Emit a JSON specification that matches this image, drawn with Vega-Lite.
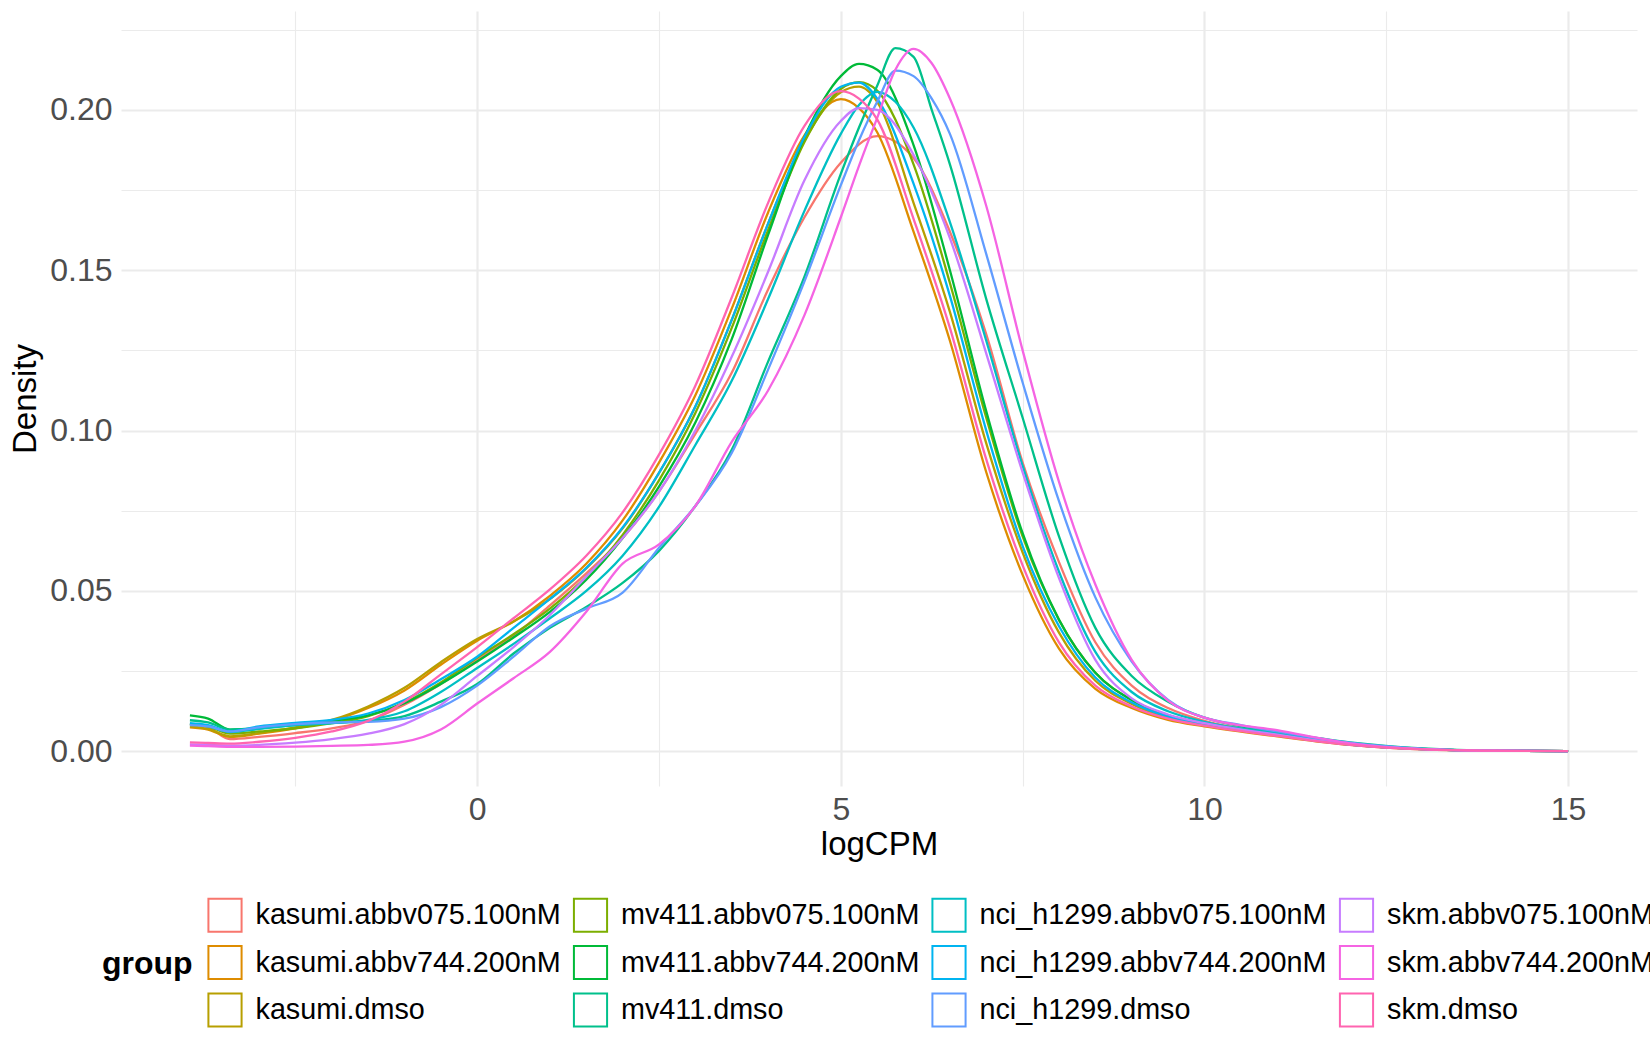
{
  "$schema": "https://vega.github.io/schema/vega-lite/v6.json",
  "width": 1516,
  "height": 775,
  "autosize": {"type": "none"},
  "padding": {"left": 121, "top": 11, "right": 13, "bottom": 264},
  "background": "white",
  "config": {
    "font": "Liberation Sans",
    "view": {"stroke": null}
  },
  "data": {
    "values": [
      {"group": "kasumi.abbv075.100nM", "logCPM": -3.95, "density": 0.0085},
      {"group": "kasumi.abbv075.100nM", "logCPM": -3.7, "density": 0.0075},
      {"group": "kasumi.abbv075.100nM", "logCPM": -3.4, "density": 0.0038},
      {"group": "kasumi.abbv075.100nM", "logCPM": -3.0, "density": 0.0045},
      {"group": "kasumi.abbv075.100nM", "logCPM": -2.5, "density": 0.0057},
      {"group": "kasumi.abbv075.100nM", "logCPM": -2.0, "density": 0.0072},
      {"group": "kasumi.abbv075.100nM", "logCPM": -1.5, "density": 0.0095},
      {"group": "kasumi.abbv075.100nM", "logCPM": -1.0, "density": 0.0145},
      {"group": "kasumi.abbv075.100nM", "logCPM": -0.5, "density": 0.021},
      {"group": "kasumi.abbv075.100nM", "logCPM": 0.0, "density": 0.0285},
      {"group": "kasumi.abbv075.100nM", "logCPM": 0.5, "density": 0.036},
      {"group": "kasumi.abbv075.100nM", "logCPM": 1.0, "density": 0.0455},
      {"group": "kasumi.abbv075.100nM", "logCPM": 1.5, "density": 0.0555},
      {"group": "kasumi.abbv075.100nM", "logCPM": 2.0, "density": 0.0665},
      {"group": "kasumi.abbv075.100nM", "logCPM": 2.5, "density": 0.081},
      {"group": "kasumi.abbv075.100nM", "logCPM": 3.0, "density": 0.099},
      {"group": "kasumi.abbv075.100nM", "logCPM": 3.5, "density": 0.118},
      {"group": "kasumi.abbv075.100nM", "logCPM": 4.0, "density": 0.144},
      {"group": "kasumi.abbv075.100nM", "logCPM": 4.5, "density": 0.1665},
      {"group": "kasumi.abbv075.100nM", "logCPM": 5.0, "density": 0.1835},
      {"group": "kasumi.abbv075.100nM", "logCPM": 5.5, "density": 0.1918},
      {"group": "kasumi.abbv075.100nM", "logCPM": 6.0, "density": 0.185},
      {"group": "kasumi.abbv075.100nM", "logCPM": 6.5, "density": 0.162},
      {"group": "kasumi.abbv075.100nM", "logCPM": 7.0, "density": 0.13},
      {"group": "kasumi.abbv075.100nM", "logCPM": 7.5, "density": 0.09},
      {"group": "kasumi.abbv075.100nM", "logCPM": 8.0, "density": 0.059},
      {"group": "kasumi.abbv075.100nM", "logCPM": 8.5, "density": 0.034},
      {"group": "kasumi.abbv075.100nM", "logCPM": 9.0, "density": 0.0205},
      {"group": "kasumi.abbv075.100nM", "logCPM": 9.5, "density": 0.0135},
      {"group": "kasumi.abbv075.100nM", "logCPM": 10.0, "density": 0.0095},
      {"group": "kasumi.abbv075.100nM", "logCPM": 11.0, "density": 0.0056},
      {"group": "kasumi.abbv075.100nM", "logCPM": 12.0, "density": 0.0024},
      {"group": "kasumi.abbv075.100nM", "logCPM": 13.0, "density": 0.0008},
      {"group": "kasumi.abbv075.100nM", "logCPM": 14.0, "density": 0.0002},
      {"group": "kasumi.abbv075.100nM", "logCPM": 15.0, "density": 0.0001},

      {"group": "kasumi.abbv744.200nM", "logCPM": -3.95, "density": 0.0075},
      {"group": "kasumi.abbv744.200nM", "logCPM": -3.7, "density": 0.0068},
      {"group": "kasumi.abbv744.200nM", "logCPM": -3.4, "density": 0.0045},
      {"group": "kasumi.abbv744.200nM", "logCPM": -3.0, "density": 0.0055},
      {"group": "kasumi.abbv744.200nM", "logCPM": -2.5, "density": 0.0072},
      {"group": "kasumi.abbv744.200nM", "logCPM": -2.0, "density": 0.0095},
      {"group": "kasumi.abbv744.200nM", "logCPM": -1.5, "density": 0.0135},
      {"group": "kasumi.abbv744.200nM", "logCPM": -1.0, "density": 0.019},
      {"group": "kasumi.abbv744.200nM", "logCPM": -0.5, "density": 0.027},
      {"group": "kasumi.abbv744.200nM", "logCPM": 0.0, "density": 0.0345},
      {"group": "kasumi.abbv744.200nM", "logCPM": 0.5, "density": 0.0405},
      {"group": "kasumi.abbv744.200nM", "logCPM": 1.0, "density": 0.0485},
      {"group": "kasumi.abbv744.200nM", "logCPM": 1.5, "density": 0.0585},
      {"group": "kasumi.abbv744.200nM", "logCPM": 2.0, "density": 0.072},
      {"group": "kasumi.abbv744.200nM", "logCPM": 2.5, "density": 0.09},
      {"group": "kasumi.abbv744.200nM", "logCPM": 3.0, "density": 0.111},
      {"group": "kasumi.abbv744.200nM", "logCPM": 3.5, "density": 0.138},
      {"group": "kasumi.abbv744.200nM", "logCPM": 4.0, "density": 0.168},
      {"group": "kasumi.abbv744.200nM", "logCPM": 4.5, "density": 0.192},
      {"group": "kasumi.abbv744.200nM", "logCPM": 5.0, "density": 0.2033},
      {"group": "kasumi.abbv744.200nM", "logCPM": 5.25, "density": 0.2005},
      {"group": "kasumi.abbv744.200nM", "logCPM": 5.5, "density": 0.193},
      {"group": "kasumi.abbv744.200nM", "logCPM": 6.0, "density": 0.162},
      {"group": "kasumi.abbv744.200nM", "logCPM": 6.5, "density": 0.128},
      {"group": "kasumi.abbv744.200nM", "logCPM": 7.0, "density": 0.087},
      {"group": "kasumi.abbv744.200nM", "logCPM": 7.5, "density": 0.055},
      {"group": "kasumi.abbv744.200nM", "logCPM": 8.0, "density": 0.032},
      {"group": "kasumi.abbv744.200nM", "logCPM": 8.5, "density": 0.0195},
      {"group": "kasumi.abbv744.200nM", "logCPM": 9.0, "density": 0.0135},
      {"group": "kasumi.abbv744.200nM", "logCPM": 9.5, "density": 0.0098},
      {"group": "kasumi.abbv744.200nM", "logCPM": 10.0, "density": 0.0078},
      {"group": "kasumi.abbv744.200nM", "logCPM": 11.0, "density": 0.0047},
      {"group": "kasumi.abbv744.200nM", "logCPM": 12.0, "density": 0.002},
      {"group": "kasumi.abbv744.200nM", "logCPM": 13.0, "density": 0.0006},
      {"group": "kasumi.abbv744.200nM", "logCPM": 14.0, "density": 0.0002},
      {"group": "kasumi.abbv744.200nM", "logCPM": 15.0, "density": 0.0001},

      {"group": "kasumi.dmso", "logCPM": -3.95, "density": 0.0078},
      {"group": "kasumi.dmso", "logCPM": -3.7, "density": 0.007},
      {"group": "kasumi.dmso", "logCPM": -3.4, "density": 0.0047},
      {"group": "kasumi.dmso", "logCPM": -3.0, "density": 0.0057},
      {"group": "kasumi.dmso", "logCPM": -2.5, "density": 0.0075},
      {"group": "kasumi.dmso", "logCPM": -2.0, "density": 0.0098},
      {"group": "kasumi.dmso", "logCPM": -1.5, "density": 0.014},
      {"group": "kasumi.dmso", "logCPM": -1.0, "density": 0.0198},
      {"group": "kasumi.dmso", "logCPM": -0.5, "density": 0.0278},
      {"group": "kasumi.dmso", "logCPM": 0.0, "density": 0.035},
      {"group": "kasumi.dmso", "logCPM": 0.5, "density": 0.0405},
      {"group": "kasumi.dmso", "logCPM": 1.0, "density": 0.0475},
      {"group": "kasumi.dmso", "logCPM": 1.5, "density": 0.057},
      {"group": "kasumi.dmso", "logCPM": 2.0, "density": 0.0695},
      {"group": "kasumi.dmso", "logCPM": 2.5, "density": 0.0868},
      {"group": "kasumi.dmso", "logCPM": 3.0, "density": 0.1075},
      {"group": "kasumi.dmso", "logCPM": 3.5, "density": 0.1345},
      {"group": "kasumi.dmso", "logCPM": 4.0, "density": 0.1645},
      {"group": "kasumi.dmso", "logCPM": 4.5, "density": 0.1905},
      {"group": "kasumi.dmso", "logCPM": 5.0, "density": 0.2055},
      {"group": "kasumi.dmso", "logCPM": 5.25, "density": 0.2072},
      {"group": "kasumi.dmso", "logCPM": 5.5, "density": 0.2025},
      {"group": "kasumi.dmso", "logCPM": 6.0, "density": 0.171},
      {"group": "kasumi.dmso", "logCPM": 6.5, "density": 0.137},
      {"group": "kasumi.dmso", "logCPM": 7.0, "density": 0.096},
      {"group": "kasumi.dmso", "logCPM": 7.5, "density": 0.062},
      {"group": "kasumi.dmso", "logCPM": 8.0, "density": 0.037},
      {"group": "kasumi.dmso", "logCPM": 8.5, "density": 0.022},
      {"group": "kasumi.dmso", "logCPM": 9.0, "density": 0.0148},
      {"group": "kasumi.dmso", "logCPM": 9.5, "density": 0.0105},
      {"group": "kasumi.dmso", "logCPM": 10.0, "density": 0.0082},
      {"group": "kasumi.dmso", "logCPM": 11.0, "density": 0.005},
      {"group": "kasumi.dmso", "logCPM": 12.0, "density": 0.0021},
      {"group": "kasumi.dmso", "logCPM": 13.0, "density": 0.0007},
      {"group": "kasumi.dmso", "logCPM": 14.0, "density": 0.0002},
      {"group": "kasumi.dmso", "logCPM": 15.0, "density": 0.0001},

      {"group": "mv411.abbv075.100nM", "logCPM": -3.95, "density": 0.0085},
      {"group": "mv411.abbv075.100nM", "logCPM": -3.7, "density": 0.0078},
      {"group": "mv411.abbv075.100nM", "logCPM": -3.4, "density": 0.0055},
      {"group": "mv411.abbv075.100nM", "logCPM": -3.0, "density": 0.0062},
      {"group": "mv411.abbv075.100nM", "logCPM": -2.5, "density": 0.0072},
      {"group": "mv411.abbv075.100nM", "logCPM": -2.0, "density": 0.0088},
      {"group": "mv411.abbv075.100nM", "logCPM": -1.5, "density": 0.011},
      {"group": "mv411.abbv075.100nM", "logCPM": -1.0, "density": 0.0152},
      {"group": "mv411.abbv075.100nM", "logCPM": -0.5, "density": 0.0215},
      {"group": "mv411.abbv075.100nM", "logCPM": 0.0, "density": 0.0292},
      {"group": "mv411.abbv075.100nM", "logCPM": 0.5, "density": 0.0365},
      {"group": "mv411.abbv075.100nM", "logCPM": 1.0, "density": 0.0445},
      {"group": "mv411.abbv075.100nM", "logCPM": 1.5, "density": 0.0545},
      {"group": "mv411.abbv075.100nM", "logCPM": 2.0, "density": 0.0675},
      {"group": "mv411.abbv075.100nM", "logCPM": 2.5, "density": 0.0845},
      {"group": "mv411.abbv075.100nM", "logCPM": 3.0, "density": 0.1055},
      {"group": "mv411.abbv075.100nM", "logCPM": 3.5, "density": 0.132},
      {"group": "mv411.abbv075.100nM", "logCPM": 4.0, "density": 0.1625},
      {"group": "mv411.abbv075.100nM", "logCPM": 4.5, "density": 0.19},
      {"group": "mv411.abbv075.100nM", "logCPM": 5.0, "density": 0.2065},
      {"group": "mv411.abbv075.100nM", "logCPM": 5.25, "density": 0.2086},
      {"group": "mv411.abbv075.100nM", "logCPM": 5.5, "density": 0.206},
      {"group": "mv411.abbv075.100nM", "logCPM": 6.0, "density": 0.183},
      {"group": "mv411.abbv075.100nM", "logCPM": 6.5, "density": 0.146},
      {"group": "mv411.abbv075.100nM", "logCPM": 7.0, "density": 0.104},
      {"group": "mv411.abbv075.100nM", "logCPM": 7.5, "density": 0.067},
      {"group": "mv411.abbv075.100nM", "logCPM": 8.0, "density": 0.041},
      {"group": "mv411.abbv075.100nM", "logCPM": 8.5, "density": 0.0245},
      {"group": "mv411.abbv075.100nM", "logCPM": 9.0, "density": 0.016},
      {"group": "mv411.abbv075.100nM", "logCPM": 9.5, "density": 0.0112},
      {"group": "mv411.abbv075.100nM", "logCPM": 10.0, "density": 0.0086},
      {"group": "mv411.abbv075.100nM", "logCPM": 11.0, "density": 0.0052},
      {"group": "mv411.abbv075.100nM", "logCPM": 12.0, "density": 0.0022},
      {"group": "mv411.abbv075.100nM", "logCPM": 13.0, "density": 0.0007},
      {"group": "mv411.abbv075.100nM", "logCPM": 14.0, "density": 0.0002},
      {"group": "mv411.abbv075.100nM", "logCPM": 15.0, "density": 0.0001},

      {"group": "mv411.abbv744.200nM", "logCPM": -3.95, "density": 0.0112},
      {"group": "mv411.abbv744.200nM", "logCPM": -3.7, "density": 0.0102},
      {"group": "mv411.abbv744.200nM", "logCPM": -3.4, "density": 0.0068},
      {"group": "mv411.abbv744.200nM", "logCPM": -3.0, "density": 0.0072},
      {"group": "mv411.abbv744.200nM", "logCPM": -2.5, "density": 0.0085},
      {"group": "mv411.abbv744.200nM", "logCPM": -2.0, "density": 0.0095},
      {"group": "mv411.abbv744.200nM", "logCPM": -1.5, "density": 0.0112},
      {"group": "mv411.abbv744.200nM", "logCPM": -1.0, "density": 0.015},
      {"group": "mv411.abbv744.200nM", "logCPM": -0.5, "density": 0.021},
      {"group": "mv411.abbv744.200nM", "logCPM": 0.0, "density": 0.028},
      {"group": "mv411.abbv744.200nM", "logCPM": 0.5, "density": 0.0355},
      {"group": "mv411.abbv744.200nM", "logCPM": 1.0, "density": 0.0435},
      {"group": "mv411.abbv744.200nM", "logCPM": 1.5, "density": 0.0535},
      {"group": "mv411.abbv744.200nM", "logCPM": 2.0, "density": 0.0665},
      {"group": "mv411.abbv744.200nM", "logCPM": 2.5, "density": 0.0825},
      {"group": "mv411.abbv744.200nM", "logCPM": 3.0, "density": 0.1025},
      {"group": "mv411.abbv744.200nM", "logCPM": 3.5, "density": 0.1285},
      {"group": "mv411.abbv744.200nM", "logCPM": 4.0, "density": 0.161},
      {"group": "mv411.abbv744.200nM", "logCPM": 4.5, "density": 0.1915},
      {"group": "mv411.abbv744.200nM", "logCPM": 5.0, "density": 0.2105},
      {"group": "mv411.abbv744.200nM", "logCPM": 5.25, "density": 0.2143},
      {"group": "mv411.abbv744.200nM", "logCPM": 5.5, "density": 0.2125},
      {"group": "mv411.abbv744.200nM", "logCPM": 6.0, "density": 0.189},
      {"group": "mv411.abbv744.200nM", "logCPM": 6.5, "density": 0.15},
      {"group": "mv411.abbv744.200nM", "logCPM": 7.0, "density": 0.106},
      {"group": "mv411.abbv744.200nM", "logCPM": 7.5, "density": 0.068},
      {"group": "mv411.abbv744.200nM", "logCPM": 8.0, "density": 0.041},
      {"group": "mv411.abbv744.200nM", "logCPM": 8.5, "density": 0.0245},
      {"group": "mv411.abbv744.200nM", "logCPM": 9.0, "density": 0.016},
      {"group": "mv411.abbv744.200nM", "logCPM": 9.5, "density": 0.0112},
      {"group": "mv411.abbv744.200nM", "logCPM": 10.0, "density": 0.0086},
      {"group": "mv411.abbv744.200nM", "logCPM": 11.0, "density": 0.0052},
      {"group": "mv411.abbv744.200nM", "logCPM": 12.0, "density": 0.0022},
      {"group": "mv411.abbv744.200nM", "logCPM": 13.0, "density": 0.0007},
      {"group": "mv411.abbv744.200nM", "logCPM": 14.0, "density": 0.0002},
      {"group": "mv411.abbv744.200nM", "logCPM": 15.0, "density": 0.0001},

      {"group": "mv411.dmso", "logCPM": -3.95, "density": 0.0097},
      {"group": "mv411.dmso", "logCPM": -3.7, "density": 0.009},
      {"group": "mv411.dmso", "logCPM": -3.4, "density": 0.0068},
      {"group": "mv411.dmso", "logCPM": -3.0, "density": 0.0072},
      {"group": "mv411.dmso", "logCPM": -2.5, "density": 0.0082},
      {"group": "mv411.dmso", "logCPM": -2.0, "density": 0.0088},
      {"group": "mv411.dmso", "logCPM": -1.5, "density": 0.0095},
      {"group": "mv411.dmso", "logCPM": -1.0, "density": 0.011},
      {"group": "mv411.dmso", "logCPM": -0.5, "density": 0.0155},
      {"group": "mv411.dmso", "logCPM": 0.0, "density": 0.021},
      {"group": "mv411.dmso", "logCPM": 0.5, "density": 0.0305},
      {"group": "mv411.dmso", "logCPM": 1.0, "density": 0.0385},
      {"group": "mv411.dmso", "logCPM": 1.5, "density": 0.045},
      {"group": "mv411.dmso", "logCPM": 2.0, "density": 0.0525},
      {"group": "mv411.dmso", "logCPM": 2.5, "density": 0.0625},
      {"group": "mv411.dmso", "logCPM": 3.0, "density": 0.0765},
      {"group": "mv411.dmso", "logCPM": 3.5, "density": 0.094},
      {"group": "mv411.dmso", "logCPM": 4.0, "density": 0.1215},
      {"group": "mv411.dmso", "logCPM": 4.5, "density": 0.148},
      {"group": "mv411.dmso", "logCPM": 5.0, "density": 0.18},
      {"group": "mv411.dmso", "logCPM": 5.25, "density": 0.1945},
      {"group": "mv411.dmso", "logCPM": 5.5, "density": 0.2075},
      {"group": "mv411.dmso", "logCPM": 5.75, "density": 0.2192},
      {"group": "mv411.dmso", "logCPM": 6.0, "density": 0.2165},
      {"group": "mv411.dmso", "logCPM": 6.25, "density": 0.2},
      {"group": "mv411.dmso", "logCPM": 6.5, "density": 0.183},
      {"group": "mv411.dmso", "logCPM": 7.0, "density": 0.141},
      {"group": "mv411.dmso", "logCPM": 7.5, "density": 0.104},
      {"group": "mv411.dmso", "logCPM": 8.0, "density": 0.067},
      {"group": "mv411.dmso", "logCPM": 8.5, "density": 0.0385},
      {"group": "mv411.dmso", "logCPM": 9.0, "density": 0.0235},
      {"group": "mv411.dmso", "logCPM": 9.5, "density": 0.0155},
      {"group": "mv411.dmso", "logCPM": 10.0, "density": 0.0105},
      {"group": "mv411.dmso", "logCPM": 10.5, "density": 0.0078},
      {"group": "mv411.dmso", "logCPM": 11.0, "density": 0.006},
      {"group": "mv411.dmso", "logCPM": 12.0, "density": 0.0028},
      {"group": "mv411.dmso", "logCPM": 13.0, "density": 0.0009},
      {"group": "mv411.dmso", "logCPM": 14.0, "density": 0.0002},
      {"group": "mv411.dmso", "logCPM": 15.0, "density": 0.0001},

      {"group": "nci_h1299.abbv075.100nM", "logCPM": -3.95, "density": 0.0085},
      {"group": "nci_h1299.abbv075.100nM", "logCPM": -3.7, "density": 0.0078},
      {"group": "nci_h1299.abbv075.100nM", "logCPM": -3.4, "density": 0.006},
      {"group": "nci_h1299.abbv075.100nM", "logCPM": -3.0, "density": 0.007},
      {"group": "nci_h1299.abbv075.100nM", "logCPM": -2.5, "density": 0.0082},
      {"group": "nci_h1299.abbv075.100nM", "logCPM": -2.0, "density": 0.0088},
      {"group": "nci_h1299.abbv075.100nM", "logCPM": -1.5, "density": 0.0098},
      {"group": "nci_h1299.abbv075.100nM", "logCPM": -1.0, "density": 0.0125},
      {"group": "nci_h1299.abbv075.100nM", "logCPM": -0.5, "density": 0.0185},
      {"group": "nci_h1299.abbv075.100nM", "logCPM": 0.0, "density": 0.026},
      {"group": "nci_h1299.abbv075.100nM", "logCPM": 0.5, "density": 0.0335},
      {"group": "nci_h1299.abbv075.100nM", "logCPM": 1.0, "density": 0.0415},
      {"group": "nci_h1299.abbv075.100nM", "logCPM": 1.5, "density": 0.05},
      {"group": "nci_h1299.abbv075.100nM", "logCPM": 2.0, "density": 0.061},
      {"group": "nci_h1299.abbv075.100nM", "logCPM": 2.5, "density": 0.0762},
      {"group": "nci_h1299.abbv075.100nM", "logCPM": 3.0, "density": 0.0955},
      {"group": "nci_h1299.abbv075.100nM", "logCPM": 3.5, "density": 0.1155},
      {"group": "nci_h1299.abbv075.100nM", "logCPM": 4.0, "density": 0.141},
      {"group": "nci_h1299.abbv075.100nM", "logCPM": 4.5, "density": 0.1685},
      {"group": "nci_h1299.abbv075.100nM", "logCPM": 5.0, "density": 0.1925},
      {"group": "nci_h1299.abbv075.100nM", "logCPM": 5.25, "density": 0.2015},
      {"group": "nci_h1299.abbv075.100nM", "logCPM": 5.5, "density": 0.2056},
      {"group": "nci_h1299.abbv075.100nM", "logCPM": 5.75, "density": 0.2025},
      {"group": "nci_h1299.abbv075.100nM", "logCPM": 6.0, "density": 0.1945},
      {"group": "nci_h1299.abbv075.100nM", "logCPM": 6.5, "density": 0.165},
      {"group": "nci_h1299.abbv075.100nM", "logCPM": 7.0, "density": 0.128},
      {"group": "nci_h1299.abbv075.100nM", "logCPM": 7.5, "density": 0.089},
      {"group": "nci_h1299.abbv075.100nM", "logCPM": 8.0, "density": 0.056},
      {"group": "nci_h1299.abbv075.100nM", "logCPM": 8.5, "density": 0.031},
      {"group": "nci_h1299.abbv075.100nM", "logCPM": 9.0, "density": 0.0185},
      {"group": "nci_h1299.abbv075.100nM", "logCPM": 9.5, "density": 0.0125},
      {"group": "nci_h1299.abbv075.100nM", "logCPM": 10.0, "density": 0.0092},
      {"group": "nci_h1299.abbv075.100nM", "logCPM": 11.0, "density": 0.0055},
      {"group": "nci_h1299.abbv075.100nM", "logCPM": 12.0, "density": 0.0024},
      {"group": "nci_h1299.abbv075.100nM", "logCPM": 13.0, "density": 0.0008},
      {"group": "nci_h1299.abbv075.100nM", "logCPM": 14.0, "density": 0.0002},
      {"group": "nci_h1299.abbv075.100nM", "logCPM": 15.0, "density": 0.0001},

      {"group": "nci_h1299.abbv744.200nM", "logCPM": -3.95, "density": 0.0088},
      {"group": "nci_h1299.abbv744.200nM", "logCPM": -3.7, "density": 0.0082},
      {"group": "nci_h1299.abbv744.200nM", "logCPM": -3.4, "density": 0.0062},
      {"group": "nci_h1299.abbv744.200nM", "logCPM": -3.0, "density": 0.0078},
      {"group": "nci_h1299.abbv744.200nM", "logCPM": -2.5, "density": 0.0089},
      {"group": "nci_h1299.abbv744.200nM", "logCPM": -2.0, "density": 0.0098},
      {"group": "nci_h1299.abbv744.200nM", "logCPM": -1.5, "density": 0.0118},
      {"group": "nci_h1299.abbv744.200nM", "logCPM": -1.0, "density": 0.016},
      {"group": "nci_h1299.abbv744.200nM", "logCPM": -0.5, "density": 0.0225},
      {"group": "nci_h1299.abbv744.200nM", "logCPM": 0.0, "density": 0.0295},
      {"group": "nci_h1299.abbv744.200nM", "logCPM": 0.5, "density": 0.0385},
      {"group": "nci_h1299.abbv744.200nM", "logCPM": 1.0, "density": 0.0475},
      {"group": "nci_h1299.abbv744.200nM", "logCPM": 1.5, "density": 0.0572},
      {"group": "nci_h1299.abbv744.200nM", "logCPM": 2.0, "density": 0.0698},
      {"group": "nci_h1299.abbv744.200nM", "logCPM": 2.5, "density": 0.0868},
      {"group": "nci_h1299.abbv744.200nM", "logCPM": 3.0, "density": 0.1075},
      {"group": "nci_h1299.abbv744.200nM", "logCPM": 3.5, "density": 0.1345},
      {"group": "nci_h1299.abbv744.200nM", "logCPM": 4.0, "density": 0.1645},
      {"group": "nci_h1299.abbv744.200nM", "logCPM": 4.5, "density": 0.1915},
      {"group": "nci_h1299.abbv744.200nM", "logCPM": 5.0, "density": 0.2072},
      {"group": "nci_h1299.abbv744.200nM", "logCPM": 5.25, "density": 0.2085},
      {"group": "nci_h1299.abbv744.200nM", "logCPM": 5.5, "density": 0.2035},
      {"group": "nci_h1299.abbv744.200nM", "logCPM": 6.0, "density": 0.177},
      {"group": "nci_h1299.abbv744.200nM", "logCPM": 6.5, "density": 0.142},
      {"group": "nci_h1299.abbv744.200nM", "logCPM": 7.0, "density": 0.1},
      {"group": "nci_h1299.abbv744.200nM", "logCPM": 7.5, "density": 0.064},
      {"group": "nci_h1299.abbv744.200nM", "logCPM": 8.0, "density": 0.039},
      {"group": "nci_h1299.abbv744.200nM", "logCPM": 8.5, "density": 0.023},
      {"group": "nci_h1299.abbv744.200nM", "logCPM": 9.0, "density": 0.0152},
      {"group": "nci_h1299.abbv744.200nM", "logCPM": 9.5, "density": 0.0108},
      {"group": "nci_h1299.abbv744.200nM", "logCPM": 10.0, "density": 0.0083},
      {"group": "nci_h1299.abbv744.200nM", "logCPM": 11.0, "density": 0.005},
      {"group": "nci_h1299.abbv744.200nM", "logCPM": 12.0, "density": 0.0021},
      {"group": "nci_h1299.abbv744.200nM", "logCPM": 13.0, "density": 0.0007},
      {"group": "nci_h1299.abbv744.200nM", "logCPM": 14.0, "density": 0.0002},
      {"group": "nci_h1299.abbv744.200nM", "logCPM": 15.0, "density": 0.0001},

      {"group": "nci_h1299.dmso", "logCPM": -3.95, "density": 0.0082},
      {"group": "nci_h1299.dmso", "logCPM": -3.7, "density": 0.0078},
      {"group": "nci_h1299.dmso", "logCPM": -3.4, "density": 0.0062},
      {"group": "nci_h1299.dmso", "logCPM": -3.0, "density": 0.0075},
      {"group": "nci_h1299.dmso", "logCPM": -2.5, "density": 0.0085},
      {"group": "nci_h1299.dmso", "logCPM": -2.0, "density": 0.009},
      {"group": "nci_h1299.dmso", "logCPM": -1.5, "density": 0.0092},
      {"group": "nci_h1299.dmso", "logCPM": -1.0, "density": 0.0102},
      {"group": "nci_h1299.dmso", "logCPM": -0.5, "density": 0.0138},
      {"group": "nci_h1299.dmso", "logCPM": 0.0, "density": 0.0205},
      {"group": "nci_h1299.dmso", "logCPM": 0.5, "density": 0.0295},
      {"group": "nci_h1299.dmso", "logCPM": 1.0, "density": 0.039},
      {"group": "nci_h1299.dmso", "logCPM": 1.5, "density": 0.0445},
      {"group": "nci_h1299.dmso", "logCPM": 2.0, "density": 0.0495},
      {"group": "nci_h1299.dmso", "logCPM": 2.5, "density": 0.0635},
      {"group": "nci_h1299.dmso", "logCPM": 3.0, "density": 0.0765},
      {"group": "nci_h1299.dmso", "logCPM": 3.5, "density": 0.093},
      {"group": "nci_h1299.dmso", "logCPM": 4.0, "density": 0.119},
      {"group": "nci_h1299.dmso", "logCPM": 4.5, "density": 0.1465},
      {"group": "nci_h1299.dmso", "logCPM": 5.0, "density": 0.1765},
      {"group": "nci_h1299.dmso", "logCPM": 5.25, "density": 0.1905},
      {"group": "nci_h1299.dmso", "logCPM": 5.5, "density": 0.2025},
      {"group": "nci_h1299.dmso", "logCPM": 5.75, "density": 0.2122},
      {"group": "nci_h1299.dmso", "logCPM": 6.0, "density": 0.2105},
      {"group": "nci_h1299.dmso", "logCPM": 6.25, "density": 0.2035},
      {"group": "nci_h1299.dmso", "logCPM": 6.5, "density": 0.1925},
      {"group": "nci_h1299.dmso", "logCPM": 7.0, "density": 0.155},
      {"group": "nci_h1299.dmso", "logCPM": 7.5, "density": 0.115},
      {"group": "nci_h1299.dmso", "logCPM": 8.0, "density": 0.078},
      {"group": "nci_h1299.dmso", "logCPM": 8.5, "density": 0.048},
      {"group": "nci_h1299.dmso", "logCPM": 9.0, "density": 0.028},
      {"group": "nci_h1299.dmso", "logCPM": 9.5, "density": 0.016},
      {"group": "nci_h1299.dmso", "logCPM": 10.0, "density": 0.0105},
      {"group": "nci_h1299.dmso", "logCPM": 10.5, "density": 0.0082},
      {"group": "nci_h1299.dmso", "logCPM": 11.0, "density": 0.0062},
      {"group": "nci_h1299.dmso", "logCPM": 12.0, "density": 0.0027},
      {"group": "nci_h1299.dmso", "logCPM": 13.0, "density": 0.0008},
      {"group": "nci_h1299.dmso", "logCPM": 14.0, "density": 0.0002},
      {"group": "nci_h1299.dmso", "logCPM": 15.0, "density": 0.0001},

      {"group": "skm.abbv075.100nM", "logCPM": -3.95, "density": 0.0022},
      {"group": "skm.abbv075.100nM", "logCPM": -3.7, "density": 0.002},
      {"group": "skm.abbv075.100nM", "logCPM": -3.4, "density": 0.0018},
      {"group": "skm.abbv075.100nM", "logCPM": -3.0, "density": 0.002},
      {"group": "skm.abbv075.100nM", "logCPM": -2.5, "density": 0.0027},
      {"group": "skm.abbv075.100nM", "logCPM": -2.0, "density": 0.0038},
      {"group": "skm.abbv075.100nM", "logCPM": -1.5, "density": 0.0055},
      {"group": "skm.abbv075.100nM", "logCPM": -1.0, "density": 0.0085},
      {"group": "skm.abbv075.100nM", "logCPM": -0.5, "density": 0.0145},
      {"group": "skm.abbv075.100nM", "logCPM": 0.0, "density": 0.0235},
      {"group": "skm.abbv075.100nM", "logCPM": 0.5, "density": 0.0325},
      {"group": "skm.abbv075.100nM", "logCPM": 1.0, "density": 0.0425},
      {"group": "skm.abbv075.100nM", "logCPM": 1.5, "density": 0.0545},
      {"group": "skm.abbv075.100nM", "logCPM": 2.0, "density": 0.0665},
      {"group": "skm.abbv075.100nM", "logCPM": 2.5, "density": 0.081},
      {"group": "skm.abbv075.100nM", "logCPM": 3.0, "density": 0.1},
      {"group": "skm.abbv075.100nM", "logCPM": 3.5, "density": 0.123},
      {"group": "skm.abbv075.100nM", "logCPM": 4.0, "density": 0.1495},
      {"group": "skm.abbv075.100nM", "logCPM": 4.5, "density": 0.178},
      {"group": "skm.abbv075.100nM", "logCPM": 5.0, "density": 0.1965},
      {"group": "skm.abbv075.100nM", "logCPM": 5.25, "density": 0.2005},
      {"group": "skm.abbv075.100nM", "logCPM": 5.5, "density": 0.2},
      {"group": "skm.abbv075.100nM", "logCPM": 6.0, "density": 0.186},
      {"group": "skm.abbv075.100nM", "logCPM": 6.5, "density": 0.16},
      {"group": "skm.abbv075.100nM", "logCPM": 7.0, "density": 0.124},
      {"group": "skm.abbv075.100nM", "logCPM": 7.5, "density": 0.087},
      {"group": "skm.abbv075.100nM", "logCPM": 8.0, "density": 0.054},
      {"group": "skm.abbv075.100nM", "logCPM": 8.5, "density": 0.0285},
      {"group": "skm.abbv075.100nM", "logCPM": 9.0, "density": 0.0165},
      {"group": "skm.abbv075.100nM", "logCPM": 9.5, "density": 0.0115},
      {"group": "skm.abbv075.100nM", "logCPM": 10.0, "density": 0.0088},
      {"group": "skm.abbv075.100nM", "logCPM": 11.0, "density": 0.0052},
      {"group": "skm.abbv075.100nM", "logCPM": 12.0, "density": 0.0022},
      {"group": "skm.abbv075.100nM", "logCPM": 13.0, "density": 0.0007},
      {"group": "skm.abbv075.100nM", "logCPM": 14.0, "density": 0.0002},
      {"group": "skm.abbv075.100nM", "logCPM": 15.0, "density": 0.0001},

      {"group": "skm.abbv744.200nM", "logCPM": -3.95, "density": 0.0018},
      {"group": "skm.abbv744.200nM", "logCPM": -3.7, "density": 0.0016},
      {"group": "skm.abbv744.200nM", "logCPM": -3.4, "density": 0.0014},
      {"group": "skm.abbv744.200nM", "logCPM": -3.0, "density": 0.0014},
      {"group": "skm.abbv744.200nM", "logCPM": -2.5, "density": 0.0015},
      {"group": "skm.abbv744.200nM", "logCPM": -2.0, "density": 0.0017},
      {"group": "skm.abbv744.200nM", "logCPM": -1.5, "density": 0.002},
      {"group": "skm.abbv744.200nM", "logCPM": -1.0, "density": 0.003},
      {"group": "skm.abbv744.200nM", "logCPM": -0.5, "density": 0.0068},
      {"group": "skm.abbv744.200nM", "logCPM": 0.0, "density": 0.0149},
      {"group": "skm.abbv744.200nM", "logCPM": 0.5, "density": 0.0228},
      {"group": "skm.abbv744.200nM", "logCPM": 1.0, "density": 0.031},
      {"group": "skm.abbv744.200nM", "logCPM": 1.5, "density": 0.0435},
      {"group": "skm.abbv744.200nM", "logCPM": 2.0, "density": 0.0585},
      {"group": "skm.abbv744.200nM", "logCPM": 2.5, "density": 0.0645},
      {"group": "skm.abbv744.200nM", "logCPM": 3.0, "density": 0.0765},
      {"group": "skm.abbv744.200nM", "logCPM": 3.5, "density": 0.0965},
      {"group": "skm.abbv744.200nM", "logCPM": 4.0, "density": 0.1125},
      {"group": "skm.abbv744.200nM", "logCPM": 4.5, "density": 0.136},
      {"group": "skm.abbv744.200nM", "logCPM": 5.0, "density": 0.1665},
      {"group": "skm.abbv744.200nM", "logCPM": 5.25, "density": 0.1825},
      {"group": "skm.abbv744.200nM", "logCPM": 5.5, "density": 0.1975},
      {"group": "skm.abbv744.200nM", "logCPM": 5.75, "density": 0.2125},
      {"group": "skm.abbv744.200nM", "logCPM": 6.0, "density": 0.219},
      {"group": "skm.abbv744.200nM", "logCPM": 6.25, "density": 0.2145},
      {"group": "skm.abbv744.200nM", "logCPM": 6.5, "density": 0.2035},
      {"group": "skm.abbv744.200nM", "logCPM": 7.0, "density": 0.17},
      {"group": "skm.abbv744.200nM", "logCPM": 7.5, "density": 0.125},
      {"group": "skm.abbv744.200nM", "logCPM": 8.0, "density": 0.084},
      {"group": "skm.abbv744.200nM", "logCPM": 8.5, "density": 0.052},
      {"group": "skm.abbv744.200nM", "logCPM": 9.0, "density": 0.0285},
      {"group": "skm.abbv744.200nM", "logCPM": 9.5, "density": 0.0158},
      {"group": "skm.abbv744.200nM", "logCPM": 10.0, "density": 0.0105},
      {"group": "skm.abbv744.200nM", "logCPM": 11.0, "density": 0.0066},
      {"group": "skm.abbv744.200nM", "logCPM": 12.0, "density": 0.0025},
      {"group": "skm.abbv744.200nM", "logCPM": 13.0, "density": 0.0007},
      {"group": "skm.abbv744.200nM", "logCPM": 14.0, "density": 0.0002},
      {"group": "skm.abbv744.200nM", "logCPM": 15.0, "density": 0.0001},

      {"group": "skm.dmso", "logCPM": -3.95, "density": 0.0028},
      {"group": "skm.dmso", "logCPM": -3.7, "density": 0.0026},
      {"group": "skm.dmso", "logCPM": -3.4, "density": 0.0024},
      {"group": "skm.dmso", "logCPM": -3.0, "density": 0.003},
      {"group": "skm.dmso", "logCPM": -2.5, "density": 0.0042},
      {"group": "skm.dmso", "logCPM": -2.0, "density": 0.0062},
      {"group": "skm.dmso", "logCPM": -1.5, "density": 0.0095},
      {"group": "skm.dmso", "logCPM": -1.0, "density": 0.0155},
      {"group": "skm.dmso", "logCPM": -0.5, "density": 0.024},
      {"group": "skm.dmso", "logCPM": 0.0, "density": 0.0325},
      {"group": "skm.dmso", "logCPM": 0.5, "density": 0.0415},
      {"group": "skm.dmso", "logCPM": 1.0, "density": 0.0505},
      {"group": "skm.dmso", "logCPM": 1.5, "density": 0.061},
      {"group": "skm.dmso", "logCPM": 2.0, "density": 0.0745},
      {"group": "skm.dmso", "logCPM": 2.5, "density": 0.0925},
      {"group": "skm.dmso", "logCPM": 3.0, "density": 0.114},
      {"group": "skm.dmso", "logCPM": 3.5, "density": 0.1415},
      {"group": "skm.dmso", "logCPM": 4.0, "density": 0.171},
      {"group": "skm.dmso", "logCPM": 4.5, "density": 0.195},
      {"group": "skm.dmso", "logCPM": 5.0, "density": 0.2058},
      {"group": "skm.dmso", "logCPM": 5.25, "density": 0.2035},
      {"group": "skm.dmso", "logCPM": 5.5, "density": 0.197},
      {"group": "skm.dmso", "logCPM": 6.0, "density": 0.166},
      {"group": "skm.dmso", "logCPM": 6.5, "density": 0.132},
      {"group": "skm.dmso", "logCPM": 7.0, "density": 0.091},
      {"group": "skm.dmso", "logCPM": 7.5, "density": 0.058},
      {"group": "skm.dmso", "logCPM": 8.0, "density": 0.034},
      {"group": "skm.dmso", "logCPM": 8.5, "density": 0.0205},
      {"group": "skm.dmso", "logCPM": 9.0, "density": 0.014},
      {"group": "skm.dmso", "logCPM": 9.5, "density": 0.0102},
      {"group": "skm.dmso", "logCPM": 10.0, "density": 0.008},
      {"group": "skm.dmso", "logCPM": 11.0, "density": 0.0048},
      {"group": "skm.dmso", "logCPM": 12.0, "density": 0.002},
      {"group": "skm.dmso", "logCPM": 13.0, "density": 0.0006},
      {"group": "skm.dmso", "logCPM": 14.0, "density": 0.0002},
      {"group": "skm.dmso", "logCPM": 15.0, "density": 0.0001}
    ]
  },
  "mark": {"type": "line", "interpolate": "monotone", "strokeWidth": 2.3},
  "encoding": {
    "x": {
      "field": "logCPM",
      "type": "quantitative",
      "title": "logCPM",
      "scale": {"domain": [-4.8975, 15.9475], "nice": false, "zero": false},
      "axis": {
        "values": [-2.5, 0, 2.5, 5, 7.5, 10, 12.5, 15],
        "labelExpr": "datum.value % 5 === 0 ? format(datum.value, 'd') : ''",
        "domain": false,
        "ticks": false,
        "labelFontSize": 32,
        "labelColor": "#4D4D4D",
        "labelPadding": 8,
        "labelFlush": false,
        "labelOverlap": false,
        "gridColor": "#EBEBEB",
        "gridWidth": {"condition": {"test": "datum.value % 5 === 0", "value": 2.2}, "value": 1.1},
        "titleFontSize": 33,
        "titleFontWeight": "normal",
        "titleColor": "black",
        "titleBaseline": "alphabetic",
        "titleY": 68
      }
    },
    "y": {
      "field": "density",
      "type": "quantitative",
      "title": "Density",
      "scale": {"domain": [-0.0108, 0.2308], "nice": false, "zero": false},
      "axis": {
        "values": [0, 0.025, 0.05, 0.075, 0.1, 0.125, 0.15, 0.175, 0.2, 0.225],
        "labelExpr": "round(datum.value * 40) % 2 === 0 ? format(datum.value, '.2f') : ''",
        "domain": false,
        "ticks": false,
        "labelFontSize": 32,
        "labelColor": "#4D4D4D",
        "labelPadding": 9,
        "labelFlush": false,
        "labelOverlap": false,
        "gridColor": "#EBEBEB",
        "gridWidth": {"condition": {"test": "round(datum.value * 40) % 2 === 0", "value": 2.2}, "value": 1.1},
        "titleFontSize": 33,
        "titleFontWeight": "normal",
        "titleColor": "black",
        "titleBaseline": "alphabetic",
        "titleAngle": -90,
        "titleX": -86,
        "titleY": 387.5
      }
    },
    "color": {
      "field": "group",
      "type": "nominal",
      "scale": {
        "domain": [
          "kasumi.abbv075.100nM", "mv411.abbv075.100nM", "nci_h1299.abbv075.100nM", "skm.abbv075.100nM",
          "kasumi.abbv744.200nM", "mv411.abbv744.200nM", "nci_h1299.abbv744.200nM", "skm.abbv744.200nM",
          "kasumi.dmso", "mv411.dmso", "nci_h1299.dmso", "skm.dmso"
        ],
        "range": [
          "#F8766D", "#7CAE00", "#00BFC4", "#C77CFF",
          "#DE8C00", "#00BA38", "#00B4F0", "#F564E3",
          "#B79F00", "#00C08B", "#619CFF", "#FF64B0"
        ]
      },
      "legend": {
        "title": "group",
        "orient": "none",
        "legendX": -19,
        "legendY": 886,
        "direction": "horizontal",
        "columns": 4,
        "padding": 0,
        "titleOrient": "left",
        "titleAnchor": "middle",
        "titleBaseline": "middle",
        "titleFontSize": 32,
        "titleFontWeight": "bold",
        "titleColor": "black",
        "titlePadding": 14,
        "labelFontSize": 28.75,
        "labelColor": "black",
        "labelOffset": 12.5,
        "labelLimit": 600,
        "columnPadding": 8.5,
        "rowPadding": 5.5,
        "symbolType": "square",
        "symbolSize": 1100,
        "symbolStrokeWidth": 2,
        "symbolFillColor": "transparent"
      }
    }
  }
}
